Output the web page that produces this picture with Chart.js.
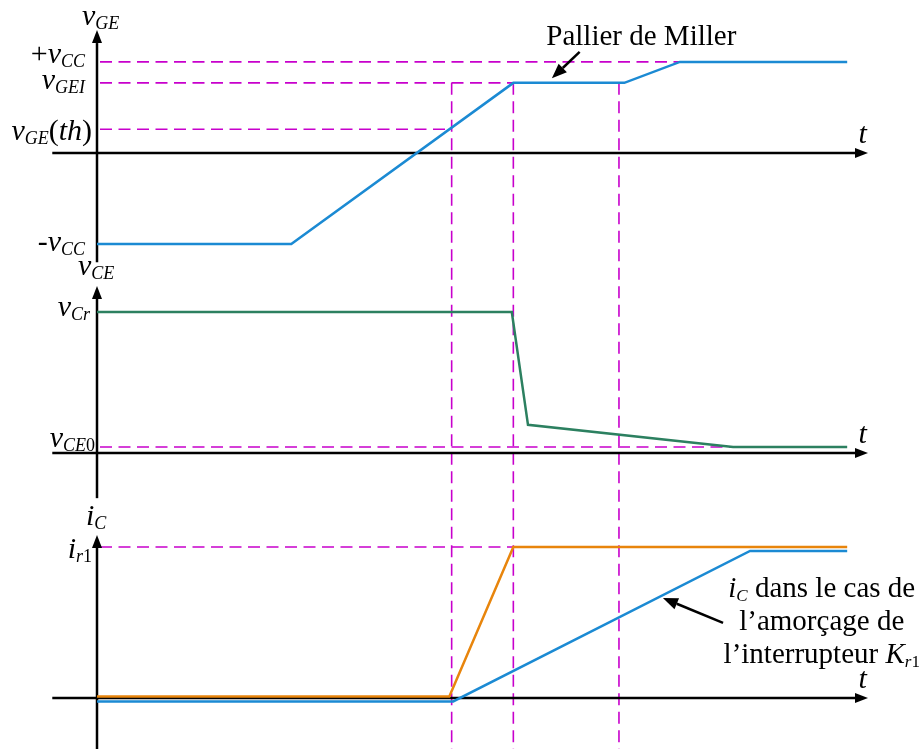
<!DOCTYPE html>
<html>
<head>
<meta charset="utf-8">
<title>Amorçage IGBT</title>
<script src="https://cdn.jsdelivr.net/npm/chart.js@4/dist/chart.umd.min.js"></script>
<style>
  html, body { margin: 0; padding: 0; background: #fff; }
  #wrap { position: relative; width: 920px; height: 749px; }
</style>
</head>
<body>
<div id="wrap"><canvas id="waves" width="920" height="749"></canvas></div>
<script>
// time in arbitrary units: 0 at the origin, 100 at the tip of the t arrow
const tMarks = [46.0, 54.0, 67.7];   // threshold, start and end of the Miller plateau

// gate voltage (vCC = 10)
const tGate = [0, 25.2, 54.0, 68.4, 75.6, 97.3];
const vGate = [-10, -10, 7.7, 7.7, 10, 10];

// collector-emitter voltage (vCr = 100)
const tCE = [0, 53.8, 55.9, 82.5, 97.3];
const vCE = [100, 100, 20, 4.3, 4.3];

// collector current (ir1 = 100)
const tIc = [0, 45.7, 54.0, 97.3];
const iC = [1, 1, 100, 100];
// collector current when Kr1 turns on
const tIcK = [0, 46.2, 84.7, 97.3];
const iCK = [-2.3, -2.3, 97.4, 97.4];

// tick levels and their labels
const gateTicks = [10, 7.7, 2.6, -10];
const gateLabels = ['$+v_{CC}$', '$v_{GEI}$', '$v_{GE}(th)$', '$-v_{CC}$'];
const ceTicks = [100, 4.3];
const ceLabels = ['$v_{Cr}$', '$v_{CE0}$'];
const icTicks = [100];
const icLabels = ['$i_{r1}$'];

const BLUE = '#1b8ad3';
const GREEN = '#2c8060';
const ORANGE = '#e8850c';
const MAGENTA = '#c800cc';
const FONT = '"Liberation Serif", "DejaVu Serif", serif';
const MATH_SIZE = 30;
const NOTE_SIZE = 29;

// one entry per stacked panel: axis ends, title and tick label placement
const panels = [
  { axis: 'yGate', top: 13.5, bottom: -12.0, title: '$v_{GE}$', titleDx: -15, titleDy: -5,
    ticks: gateTicks, labels: gateLabels, labelDx: [-12, -12, -5, -12], labelDy: [1.5, 6.5, 10.5, 6.7] },
  { axis: 'yCE', top: 118.4, bottom: -32, title: '$v_{CE}$', titleDx: -19, titleDy: -11,
    ticks: ceTicks, labels: ceLabels, labelDx: [-7, -2], labelDy: [4, 0.5] },
  { axis: 'yIc', top: 108, bottom: -33.8, title: '$i_{C}$', titleDx: -11, titleDy: -10,
    ticks: icTicks, labels: icLabels, labelDx: [-5], labelDy: [11] }
];

// dashed guides: level lines from the vertical axis, then the time marks
const hGuides = [
  { axis: 'yGate', value: 10, to: 75.6 },
  { axis: 'yGate', value: 7.7, to: tMarks[1] },
  { axis: 'yGate', value: 2.6, to: tMarks[0] },
  { axis: 'yCE', value: 4.3, to: 82.5 },
  { axis: 'yIc', value: 100, to: tMarks[1] }
];

// small rich-text renderer: $...$ is math (letters italic), _{...} is a subscript
function parseRich(src) {
  const runs = [];
  let math = false;
  for (let i = 0; i < src.length; i++) {
    const ch = src[i];
    if (ch === '$') { math = !math; continue; }
    if (math && ch === '_' && src[i + 1] === '{') {
      const end = src.indexOf('}', i);
      for (const c of src.slice(i + 2, end)) runs.push({ text: c, italic: /[A-Za-z]/.test(c), sub: true });
      i = end;
      continue;
    }
    runs.push({ text: ch, italic: math && /[A-Za-z]/.test(ch), sub: false });
  }
  return runs;
}

function drawRich(ctx, src, x, y, align, size) {
  const runs = parseRich(src);
  const subSize = Math.round(size * 0.6);
  const fontOf = r => (r.italic ? 'italic ' : '') + (r.sub ? subSize : size) + 'px ' + FONT;
  let w = 0;
  runs.forEach(r => { ctx.font = fontOf(r); r.w = ctx.measureText(r.text).width; w += r.w; });
  let cx = align === 'right' ? x - w : align === 'center' ? x - w / 2 : x;
  ctx.textAlign = 'left';
  ctx.textBaseline = 'alphabetic';
  runs.forEach(r => {
    ctx.font = fontOf(r);
    ctx.fillText(r.text, cx, r.sub ? y + size * 0.13 : y);
    cx += r.w;
  });
}

function segment(ctx, x1, y1, x2, y2) {
  ctx.beginPath();
  ctx.moveTo(x1, y1);
  ctx.lineTo(x2, y2);
  ctx.stroke();
}

// line ending in a filled arrow head at (x2, y2)
function arrow(ctx, x1, y1, x2, y2, len, half) {
  const a = Math.atan2(y2 - y1, x2 - x1);
  const bx = x2 - len * Math.cos(a), by = y2 - len * Math.sin(a);
  segment(ctx, x1, y1, bx, by);
  ctx.beginPath();
  ctx.moveTo(x2, y2);
  ctx.lineTo(bx + half * Math.sin(a), by - half * Math.cos(a));
  ctx.lineTo(bx - half * Math.sin(a), by + half * Math.cos(a));
  ctx.closePath();
  ctx.fill();
}

const diagram = {
  id: 'diagram',
  beforeDatasetsDraw(chart) {
    const { ctx, scales } = chart;
    const x = scales.x;
    ctx.save();

    // magenta dashed guides
    ctx.strokeStyle = MAGENTA;
    ctx.lineWidth = 1.6;
    ctx.setLineDash([12, 6.5]);
    const x0 = x.getPixelForValue(0);
    hGuides.forEach(g => {
      const y = scales[g.axis].getPixelForValue(g.value);
      ctx.lineDashOffset = -3;
      segment(ctx, x0, y, x.getPixelForValue(g.to), y);
    });
    const yTop = scales.yGate.getPixelForValue(7.7);
    tMarks.forEach(t => {
      const px = x.getPixelForValue(t);
      ctx.lineDashOffset = 0;
      segment(ctx, px, yTop, px, chart.chartArea.bottom);
    });
    ctx.setLineDash([]);

    // black axes with arrow heads
    ctx.strokeStyle = '#000';
    ctx.fillStyle = '#000';
    ctx.lineWidth = 2.5;
    panels.forEach(p => {
      const s = scales[p.axis];
      const y0 = s.getPixelForValue(0);
      arrow(ctx, x0, s.getPixelForValue(p.bottom), x0, s.getPixelForValue(p.top), 13, 5);
      arrow(ctx, x.getPixelForValue(-5.8), y0, x.getPixelForValue(100), y0, 13, 5);
    });
    ctx.restore();
  },
  afterDraw(chart) {
    const { ctx, scales } = chart;
    const x = scales.x;
    const x0 = x.getPixelForValue(0);
    ctx.save();
    ctx.fillStyle = '#000';
    ctx.strokeStyle = '#000';

    panels.forEach(p => {
      const s = scales[p.axis];
      drawRich(ctx, p.title, x0 + p.titleDx, s.getPixelForValue(p.top) + p.titleDy, 'left', MATH_SIZE);
      p.ticks.forEach((v, i) => {
        drawRich(ctx, p.labels[i], x0 + p.labelDx[i], s.getPixelForValue(v) + p.labelDy[i], 'right', MATH_SIZE);
      });
      drawRich(ctx, '$t$', x.getPixelForValue(99.3), s.getPixelForValue(0) - 10, 'center', MATH_SIZE);
    });

    // Miller plateau annotation
    const g = scales.yGate;
    drawRich(ctx, 'Pallier de Miller', x.getPixelForValue(70.6), g.getPixelForValue(11.9), 'center', NOTE_SIZE);
    ctx.lineWidth = 2.5;
    arrow(ctx, x.getPixelForValue(62.6), g.getPixelForValue(11.1),
      x.getPixelForValue(59.0), g.getPixelForValue(8.2), 15, 6);

    // note on the Kr1 current
    const c = scales.yIc;
    drawRich(ctx, '$i_{C}$ dans le cas de', x.getPixelForValue(94.0), c.getPixelForValue(66.9), 'center', NOTE_SIZE);
    drawRich(ctx, 'l’amorçage de', x.getPixelForValue(94.0), c.getPixelForValue(45.0), 'center', NOTE_SIZE);
    drawRich(ctx, 'l’interrupteur $K_{r1}$', x.getPixelForValue(94.0), c.getPixelForValue(23.2), 'center', NOTE_SIZE);
    arrow(ctx, x.getPixelForValue(81.2), c.getPixelForValue(49.7),
      x.getPixelForValue(73.4), c.getPixelForValue(66.2), 15, 6);
    ctx.restore();
  }
};

const xy = (ts, vs) => ts.map((t, i) => ({ x: t, y: vs[i] }));

new Chart(document.getElementById('waves'), {
  type: 'line',
  data: {
    datasets: [
      { label: 'vGE', data: xy(tGate, vGate), yAxisID: 'yGate', borderColor: BLUE },
      { label: 'vCE', data: xy(tCE, vCE), yAxisID: 'yCE', borderColor: GREEN },
      { label: 'iC', data: xy(tIc, iC), yAxisID: 'yIc', borderColor: ORANGE },
      { label: 'iC (Kr1)', data: xy(tIcK, iCK), yAxisID: 'yIc', borderColor: BLUE }
    ]
  },
  options: {
    responsive: false,
    animation: false,
    devicePixelRatio: 1,
    layout: { padding: { left: 97, right: 52, top: 0, bottom: 0 } },
    elements: {
      line: { borderWidth: 2.5, tension: 0, fill: false },
      point: { radius: 0, hoverRadius: 0 }
    },
    plugins: { legend: { display: false }, tooltip: { enabled: false } },
    scales: {
      x: { type: 'linear', min: 0, max: 100, display: false },
      yGate: { type: 'linear', position: 'left', stack: 'panels', stackWeight: 265, weight: 3,
        min: -12.3, max: 16.8, display: false },
      yCE: { type: 'linear', position: 'left', stack: 'panels', stackWeight: 235, weight: 2,
        min: -33.3, max: 133.3, display: false },
      yIc: { type: 'linear', position: 'left', stack: 'panels', stackWeight: 249, weight: 1,
        min: -33.8, max: 131.1, display: false }
    }
  },
  plugins: [diagram]
});
</script>
</body>
</html>
